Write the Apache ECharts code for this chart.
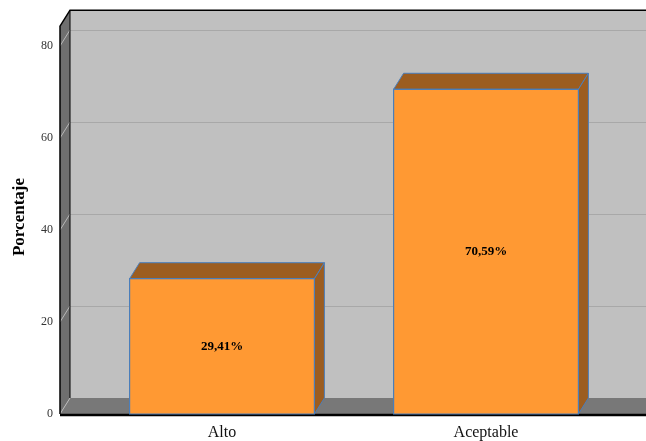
<!DOCTYPE html>
<html>
<head>
<meta charset="utf-8">
<script src="https://cdn.jsdelivr.net/npm/echarts@6/dist/echarts.min.js"></script>
<style>html,body{margin:0;padding:0;background:#fff}#c{width:646px;height:441px}</style>
</head>
<body>
<div id="c"></div>
<script>
var categories = ['Alto', 'Aceptable'];
var values = [29.41, 70.59];
var valueLabels = ['29,41%', '70,59%'];
var yTicks = [0, 20, 40, 60, 80];
var yName = 'Porcentaje';

var SERIF = '"Liberation Serif", "Times New Roman", serif';
var DX = 10, DY = -16;
var WALL_TOP = 84.3;

var chart = echarts.init(document.getElementById('c'), null, {renderer: 'canvas'});

function wallsRender(params, api) {
  var cs = params.coordSys;
  var y0 = api.coord([0, 0])[1];
  var yT = api.coord([0, WALL_TOP])[1];
  var xL = cs.x - 30;
  var xR = api.getWidth();
  var ch = [];
  ch.push({type: 'rect', shape: {x: xL + DX, y: yT + DY, width: xR - xL - DX, height: y0 - yT}, style: {fill: '#c0c0c0'}});
  ch.push({type: 'polygon', shape: {points: [[xL, yT], [xL + DX, yT + DY], [xL + DX, y0 + DY], [xL, y0]]}, style: {fill: '#6f6f6f'}});
  ch.push({type: 'polygon', shape: {points: [[xL, y0], [xL + DX, y0 + DY], [xR, y0 + DY], [xR, y0]]}, style: {fill: '#787878'}});
  yTicks.forEach(function (t) {
    var y = api.coord([0, t])[1];
    if (t !== 0) {
      ch.push({type: 'line', shape: {x1: xL + DX, y1: y + DY + 0.5, x2: xR, y2: y + DY + 0.5}, style: {stroke: '#a8a8a8', lineWidth: 1}});
    }
    ch.push({type: 'line', shape: {x1: xL, y1: y, x2: xL + DX, y2: y + DY}, style: {stroke: '#b8b8b8', lineWidth: 1}});
  });
  ch.push({type: 'polyline', shape: {points: [[xL, y0], [xL, yT], [xL + DX, yT + DY], [xR, yT + DY]]}, style: {stroke: '#000', lineWidth: 1.5, fill: null}});
  ch.push({type: 'line', shape: {x1: xL + DX, y1: yT + DY, x2: xL + DX, y2: y0 + DY}, style: {stroke: '#000', lineWidth: 1}});
  ch.push({type: 'line', shape: {x1: xL, y1: y0 + 1, x2: xR, y2: y0 + 1}, style: {stroke: '#000', lineWidth: 2.5}});
  return {type: 'group', children: ch};
}

function barRender(params, api) {
  var i = api.value(0), v = api.value(1);
  var p0 = api.coord([i, 0]);
  var p1 = api.coord([i, v]);
  var band = api.size([1, 0])[0];
  var w = band * 0.70;
  var x1 = p0[0] - w / 2, x2 = p0[0] + w / 2;
  var y0 = p0[1], yt = p1[1];
  var edge = '#4a7ebb';
  return {
    type: 'group',
    children: [
      {type: 'polygon', shape: {points: [[x1, yt], [x1 + DX, yt + DY], [x2 + DX, yt + DY], [x2, yt]]}, style: {fill: '#9c5d20', stroke: edge, lineWidth: 1}},
      {type: 'polygon', shape: {points: [[x2, yt], [x2 + DX, yt + DY], [x2 + DX, y0 + DY], [x2, y0]]}, style: {fill: '#9c5d20', stroke: edge, lineWidth: 1}},
      {type: 'rect', shape: {x: x1, y: yt, width: w, height: y0 - yt}, style: {fill: '#ff9933', stroke: edge, lineWidth: 1.2}},
      {type: 'text', x: p0[0], y: (y0 + yt) / 2, style: {text: valueLabels[params.dataIndex], fill: '#000', font: 'bold 13px ' + SERIF, align: 'center', verticalAlign: 'middle'}}
    ]
  };
}

chart.setOption({
  animation: false,
  backgroundColor: '#fff',
  grid: {left: 90, right: 28, top: 46, bottom: 27},
  xAxis: {
    type: 'category', data: categories,
    axisLine: {show: false}, axisTick: {show: false},
    axisLabel: {color: '#111', fontSize: 16, fontFamily: SERIF, margin: 11}
  },
  yAxis: {
    type: 'value', min: 0, max: 80, interval: 20,
    axisLine: {show: false}, axisTick: {show: false}, splitLine: {show: false},
    axisLabel: {color: '#333', fontSize: 12, fontFamily: SERIF, margin: 37}
  },
  graphic: [{
    type: 'text', x: 20, y: 217,
    rotation: Math.PI / 2,
    style: {text: yName, font: 'bold 17px ' + SERIF, fill: '#000', align: 'center', verticalAlign: 'middle'}
  }],
  series: [
    {type: 'custom', renderItem: wallsRender, data: [[0, 0]], clip: false, z: 1, silent: true},
    {type: 'custom', renderItem: barRender, data: values.map(function (v, i) { return [i, v]; }), clip: false, z: 2}
  ]
});
</script>
</body>
</html>
